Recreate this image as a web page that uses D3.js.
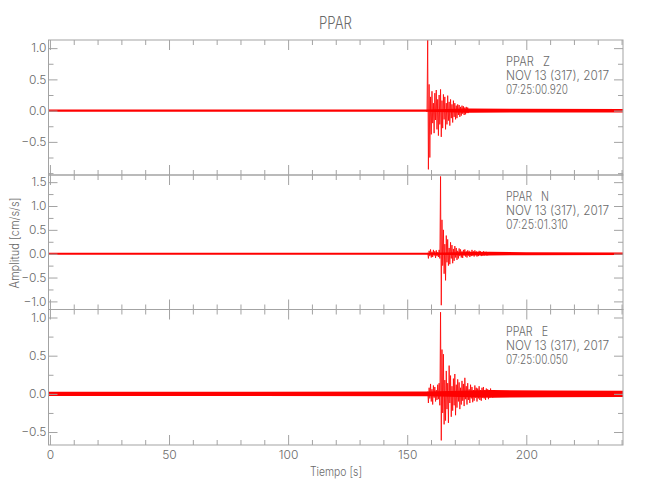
<!DOCTYPE html>
<html><head><meta charset="utf-8">
<script src="https://cdn.jsdelivr.net/npm/d3@7"></script>
<style>
body{margin:0;background:#fff;}
svg text{font-family:"Inter","Open Sans","Liberation Sans Narrow",sans-serif;font-weight:300;fill:#6a6a6a;}
</style></head><body>
<svg id="c" width="650" height="500"></svg>
<script>
// ---------- data ----------
const title = "PPAR";
const xLabel = "Tiempo [s]";
const yLabel = "Amplitud [cm/s/s]";
const xDomain = [-0.6, 240.6];
const xMajorTicks = [0, 50, 100, 150, 200];
const xMinorTicks = [10,20,30,40,60,70,80,90,110,120,130,140,160,170,180,190,210,220,230,240];

const zDomain = [-1.03, 1.13];
const nDomain = [-1.17, 1.65];
const eDomain = [-0.67, 1.105];

const zTicks = [-0.5, 0.0, 0.5, 1.0];
const nTicks = [-1.0, -0.5, 0.0, 0.5, 1.0, 1.5];
const eTicks = [-0.5, 0.0, 0.5, 1.0];
const zMinor = [-1.0, -0.75, -0.25, 0.25, 0.75];
const nMinor = [-0.75, -0.25, 0.25, 0.75, 1.25];
const eMinor = [-0.25, 0.25, 0.75];

const zText = ["PPAR   Z", "NOV 13 (317), 2017", "07:25:00.920"];
const nText = ["PPAR   N", "NOV 13 (317), 2017", "07:25:01.310"];
const eText = ["PPAR   E", "NOV 13 (317), 2017", "07:25:00.050"];

// background noise half-width (cm/s/s) at given times
const zNoiseT = [-0.6, 158.0, 176.0, 195, 240.6];
const zNoiseA = [0.017, 0.018, 0.035, 0.03, 0.028];
const nNoiseT = [-0.6, 158.6, 184.5, 200, 240.6];
const nNoiseA = [0.02, 0.02, 0.04, 0.03, 0.026];
const eNoiseT = [-0.6, 158.6, 186, 210, 240.6];
const eNoiseA = [0.028, 0.03, 0.05, 0.045, 0.042];

// event trace peaks, sampled from start time with fixed step (s)
const zStart = 158.0, nStart = 158.6, eStart = 158.6, traceStep = 0.3;
const zVals = [0.01,-0.02,1.13,-0.94,0.42,-0.75,0.22,-0.38,0.31,-0.20,
  0.12,-0.36,0.28,-0.15,0.33,-0.30,0.18,-0.40,0.25,-0.22,
  0.34,-0.42,0.16,-0.28,0.26,-0.14,0.22,-0.30,0.12,-0.22,
  0.24,-0.16,0.14,-0.24,0.18,-0.12,0.10,-0.19,0.16,-0.10,
  0.12,-0.14,0.08,-0.12,0.10,-0.07,0.09,-0.10,0.06,-0.08,
  0.08,-0.05,0.07,-0.07,0.05,-0.06,0.06,-0.04,0.05,-0.04];
const nVals = [0.02,-0.10,0.06,-0.05,0.09,-0.08,0.04,-0.07,0.08,-0.04,
  0.05,-0.09,0.07,-0.05,0.03,-0.07,0.08,-0.10,1.62,-1.08,
  0.71,-0.25,0.50,-0.42,0.20,-0.56,0.38,-0.18,0.30,-0.25,
  0.12,-0.22,0.24,-0.10,0.18,-0.20,0.10,-0.15,0.16,-0.08,
  0.12,-0.13,0.06,-0.10,0.11,-0.05,0.09,-0.08,0.05,-0.09,
  0.08,-0.04,0.09,-0.06,0.05,-0.08,0.07,-0.04,0.06,-0.07,
  0.04,-0.05,0.08,-0.04,0.05,-0.06,0.07,-0.03,0.05,-0.06,
  0.04,-0.05,0.06,-0.03,0.05,-0.05,0.03,-0.04,0.05,-0.04,
  0.04,-0.03,0.04,-0.04,0.03,-0.03];
const eVals = [0.03,-0.12,0.08,-0.06,0.13,-0.10,0.06,-0.14,0.11,-0.05,
  0.09,-0.10,0.05,-0.08,0.12,-0.07,0.14,-0.15,1.07,-0.61,
  0.58,-0.25,0.52,-0.40,0.18,-0.35,0.30,-0.20,0.14,-0.38,
  0.37,-0.12,0.24,-0.30,0.10,-0.22,0.20,-0.15,0.26,-0.28,
  0.12,-0.18,0.19,-0.10,0.15,-0.20,0.08,-0.14,0.17,-0.09,
  0.13,-0.16,0.21,-0.07,0.10,-0.14,0.14,-0.08,0.06,-0.12,
  0.12,-0.06,0.09,-0.11,0.05,-0.09,0.11,-0.05,0.08,-0.10,
  0.07,-0.06,0.10,-0.08,0.05,-0.09,0.08,-0.05,0.09,-0.06,
  0.05,-0.08,0.07,-0.04,0.06,-0.07,0.05,-0.05,0.07,-0.04,
  0.05,-0.05];

// ---------- layout ----------
const left = 48.5, right = 623;
const panelTops = [40, 175, 309.5];
const panelBottoms = [175, 309.5, 445];
const axisColor = "#a3a3a3";
const textColor = "#6a6a6a";
const traceColor = "#ff0000";

const panels = [
  {dom: zDomain, ticks: zTicks, minor: zMinor, text: zText, nT: zNoiseT, nA: zNoiseA, start: zStart, vals: zVals},
  {dom: nDomain, ticks: nTicks, minor: nMinor, text: nText, nT: nNoiseT, nA: nNoiseA, start: nStart, vals: nVals},
  {dom: eDomain, ticks: eTicks, minor: eMinor, text: eText, nT: eNoiseT, nA: eNoiseA, start: eStart, vals: eVals}
];
const textWidths = [[44, 103, 62], [43, 103, 62], [42, 103, 62]];

const svg = d3.select("#c");
const x = d3.scaleLinear().domain(xDomain).range([left, right]);
const fmt = d3.format(".1f");
const minus = s => s.replace("-", "\u2212");

panels.forEach((p, i) => {
  const top = panelTops[i], bot = panelBottoms[i];
  const y = d3.scaleLinear().domain(p.dom).range([bot, top]);
  const g = svg.append("g");
  const clipId = "clip" + i;
  svg.append("clipPath").attr("id", clipId).append("rect")
    .attr("x", left).attr("y", top).attr("width", right - left).attr("height", bot - top);
  const tg = g.append("g").attr("clip-path", `url(#${clipId})`);

  // noise band
  const band = p.nT.map((t, k) => ({t, a: p.nA[k]}));
  tg.append("path").datum(band)
    .attr("fill", traceColor)
    .attr("d", d3.area().x(d => x(d.t)).y0(d => y(-d.a)).y1(d => y(d.a)));
  // event trace: light fill to zero then the trace itself
  const tr = p.vals.map((v, k) => ({t: p.start + k * traceStep, v}));
  tg.append("path").datum(tr)
    .attr("fill", traceColor).attr("fill-opacity", 0.3)
    .attr("d", d3.area().x(d => x(d.t)).y0(y(0)).y1(d => y(d.v)));
  tg.append("path").datum(tr)
    .attr("fill", "none").attr("stroke", traceColor).attr("stroke-width", 0.8)
    .attr("d", d3.line().x(d => x(d.t)).y(d => y(d.v)));

  const axes = [];
  axes.push(g.append("g").attr("transform", `translate(${left},0)`)
    .call(d3.axisLeft(y).tickValues(p.ticks).tickSize(-9).tickSizeOuter(0).tickPadding(2)
      .tickFormat(d => minus(fmt(d)))));
  axes.push(g.append("g").attr("transform", `translate(${left},0)`)
    .call(d3.axisLeft(y).tickValues(p.minor).tickSize(-5).tickSizeOuter(0).tickFormat("")));
  axes.push(g.append("g").attr("transform", `translate(${right},0)`)
    .call(d3.axisRight(y).tickValues(p.ticks).tickSize(-9).tickSizeOuter(0).tickFormat("")));
  axes.push(g.append("g").attr("transform", `translate(${right},0)`)
    .call(d3.axisRight(y).tickValues(p.minor).tickSize(-5).tickSizeOuter(0).tickFormat("")));
  axes.push(g.append("g").attr("transform", `translate(0,${top})`)
    .call(d3.axisTop(x).tickValues(xMajorTicks).tickSize(-10).tickSizeOuter(0).tickFormat("")));
  axes.push(g.append("g").attr("transform", `translate(0,${top})`)
    .call(d3.axisTop(x).tickValues(xMinorTicks).tickSize(-5).tickSizeOuter(0).tickFormat("")));
  axes.push(g.append("g").attr("transform", `translate(0,${bot})`)
    .call(d3.axisBottom(x).tickValues(xMajorTicks).tickSize(-10).tickSizeOuter(0).tickPadding(5)
      .tickFormat(i === 2 ? d3.format("d") : "")));
  axes.push(g.append("g").attr("transform", `translate(0,${bot})`)
    .call(d3.axisBottom(x).tickValues(xMinorTicks).tickSize(-5).tickSizeOuter(0).tickFormat("")));

  axes.forEach(a => {
    a.select(".domain").remove();
    a.selectAll(".tick line").attr("stroke", axisColor).attr("stroke-width", 1);
    a.selectAll(".tick text").attr("font-size", 12).attr("fill", textColor).attr("font-family", null);
  });

  g.append("rect").attr("x", left).attr("y", top).attr("width", right - left).attr("height", bot - top)
    .attr("fill", "none").attr("stroke", axisColor).attr("stroke-width", 1);

  p.text.forEach((s, k) => {
    g.append("text").attr("x", 506).attr("y", top + 26 + k * 14.2)
      .attr("font-size", 12.5).style("white-space", "pre")
      .attr("textLength", textWidths[i][k]).attr("lengthAdjust", "spacingAndGlyphs")
      .text(s);
  });
});

svg.append("text").attr("x", 335.5).attr("y", 29).attr("text-anchor", "middle")
  .attr("font-size", 17).attr("textLength", 33).attr("lengthAdjust", "spacingAndGlyphs").text(title);
svg.append("text").attr("x", 336).attr("y", 476).attr("text-anchor", "middle")
  .attr("font-size", 12.5).attr("textLength", 52).attr("lengthAdjust", "spacingAndGlyphs").text(xLabel);
svg.append("text").attr("transform", "translate(19,243) rotate(-90)").attr("text-anchor", "middle")
  .attr("font-size", 12.5).attr("textLength", 91).attr("lengthAdjust", "spacingAndGlyphs").text(yLabel);
</script>
</body></html>
